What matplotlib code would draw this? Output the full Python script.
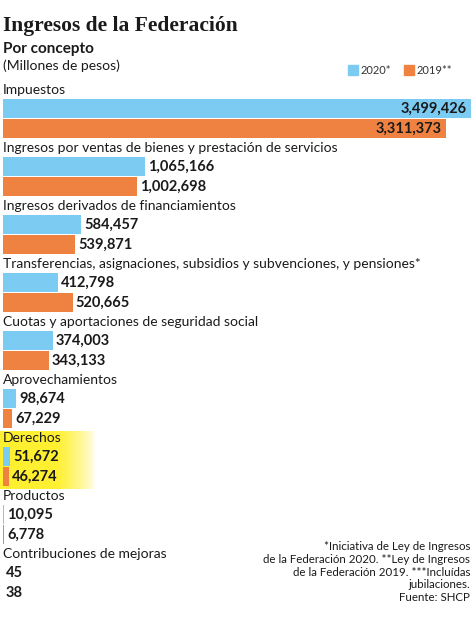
import numpy as np
import matplotlib
matplotlib.use("Agg")
import matplotlib.pyplot as plt

# ── Data ─────────────────────────────────────────────
categories = [
    "Impuestos",
    "Ingresos por ventas de bienes y prestación de servicios",
    "Ingresos derivados de financiamientos",
    "Transferencias, asignaciones, subsidios y subvenciones, y pensiones*",
    "Cuotas y aportaciones de seguridad social",
    "Aprovechamientos",
    "Derechos",
    "Productos",
    "Contribuciones de mejoras",
]
vals_2020 = [3499426, 1065166, 584457, 412798, 374003, 98674, 51672, 10095, 45]
vals_2019 = [3311373, 1002698, 539871, 520665, 343133, 67229, 46274, 6778, 38]
series_names = ["2020*", "2019**"]

# ── Style ────────────────────────────────────────────
W, H = 473, 620
BLUE = "#7BCBF2"
ORANGE = "#EF8241"
TXT = "#1a1a1a"
SANS = ["Lato", "DejaVu Sans"]

fig = plt.figure(figsize=(W / 100, H / 100), dpi=100)
fig.patch.set_facecolor("white")

# axes spanning whole figure: x in pesos, y in pixels from top
ax = fig.add_axes([0, 0, 1, 1])
k = max(vals_2020) / 468.0          # pesos per pixel
ax.set_xlim(-3 * k, (W - 3) * k)
ax.set_ylim(H, 0)
ax.axis("off")

def fx(px):
    return px / W

def fy(py):
    return 1 - py / H

# highlight behind "Derechos"
grad = np.ones((1, 100, 4))
grad[..., 0], grad[..., 1], grad[..., 2] = 1.0, 0.94, 0.15
x_g = np.linspace(0, 1, 100)
grad[0, :, 3] = np.clip((1 - x_g) / 0.4, 0, 1) ** 0.7 * 0.95
i_der = categories.index("Derechos")
top = 90 + 58 * i_der - 7
ax.imshow(grad, extent=(-3 * k, 92 * k, top + 58, top), aspect="auto",
          interpolation="bilinear", zorder=0)

BAR_H = 18.5
for i, cat in enumerate(categories):
    y0 = 90 + 58 * i
    ax.text(0, y0, cat, fontsize=10, family=SANS, color=TXT,
            va="center", ha="left")
    yb = y0 + 18.5
    yo = y0 + 38.5
    ax.barh(yb, vals_2020[i], height=BAR_H, color=BLUE, left=0, zorder=2)
    ax.barh(yo, vals_2019[i], height=BAR_H, color=ORANGE, left=0, zorder=2)
    for v, yy in ((vals_2020[i], yb), (vals_2019[i], yo)):
        lab = f"{v:,}"
        if i == 0:
            ax.text(v - 4 * k, yy + 0.5, lab, fontsize=10.5, fontweight="bold",
                    family=SANS, color=TXT, ha="right", va="center", zorder=3)
        else:
            ax.text(v + 3 * k, yy + 0.5, lab, fontsize=10.5, fontweight="bold",
                    family=SANS, color=TXT, ha="left", va="center", zorder=3)

# ── Headers ──────────────────────────────────────────
fig.text(fx(3), fy(31), "Ingresos de la Federación", fontsize=15.5,
         fontweight="bold", family=["Liberation Serif", "DejaVu Serif"],
         color=TXT, va="baseline")
fig.text(fx(3), fy(49), "Por concepto", fontsize=11, fontweight="bold",
         family=SANS, color=TXT, va="center")
fig.text(fx(3), fy(66), "(Millones de pesos)", fontsize=10,
         family=SANS, color=TXT, va="center")

# legend
for px, col, name in ((348, BLUE, series_names[0]), (404, ORANGE, series_names[1])):
    fig.patches.append(plt.Rectangle((fx(px), fy(75)), 10 / W, 10 / H,
                                     transform=fig.transFigure, color=col))
    fig.text(fx(px + 13), fy(70), name, fontsize=8, family=SANS,
             color="#333333", va="center")

# footnote
note = ("*Iniciativa de Ley de Ingresos\n"
        "de la Federación 2020. **Ley de Ingresos\n"
        "de la Federación 2019. ***Incluídas\n"
        "jubilaciones.\n"
        "Fuente: SHCP")
fig.text(fx(470), fy(541), note, fontsize=8.3, family=SANS, color=TXT,
         ha="right", va="top", multialignment="right", linespacing=1.2)

fig.savefig("out.png", dpi=100)
